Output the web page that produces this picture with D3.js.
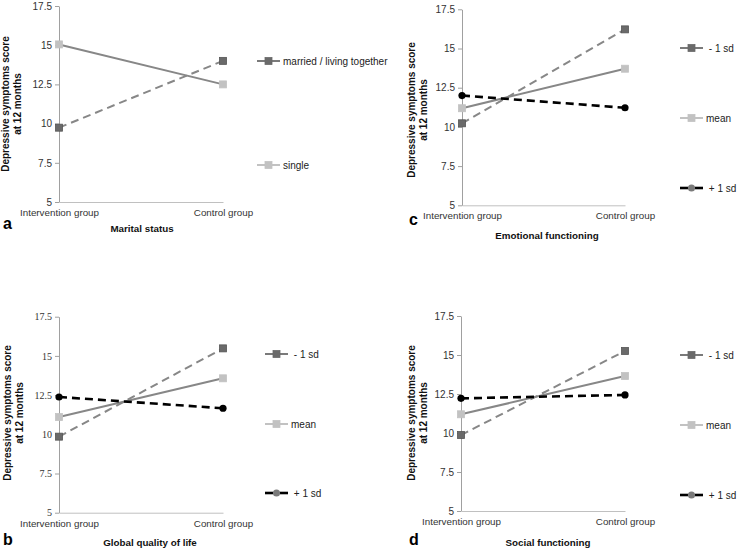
<!DOCTYPE html>
<html>
<head>
<meta charset="utf-8">
<script src="https://cdn.jsdelivr.net/npm/d3@7"></script>
<style>
  body { margin: 0; background: #fff; }
  svg { font-family: "Liberation Sans", Arial, sans-serif; }
  .legend text { white-space: pre; }
</style>
</head>
<body>
<div id="chart"></div>
<script>
// values
const groups = ["Intervention group", "Control group"];
const yTicks = [5, 7.5, 10, 12.5, 15, 17.5];
const yLabel = ["Depressive symptoms score", "at 12 months"];

const maritalLabels = ["married / living together", "single"];
const maritalMarried = [9.74, 14.0];
const maritalSingle = [15.05, 12.5];

const sdLabels = [" - 1 sd", "mean", " + 1 sd"];
const emotionalMinus = [10.23, 16.22];
const emotionalMean = [11.19, 13.71];
const emotionalPlus = [12.0, 11.22];
const globalMinus = [9.85, 15.48];
const globalMean = [11.1, 13.57];
const globalPlus = [12.38, 11.66];
const socialMinus = [9.87, 15.26];
const socialMean = [11.2, 13.65];
const socialPlus = [12.22, 12.44];

const panelTitles = ["Marital status", "Emotional functioning", "Global quality of life", "Social functioning"];
const panelLetters = ["a", "c", "b", "d"];

// series styles
const styleDash = { line: "#878787", dash: "8,5", width: 2, marker: "square", fill: "#6a6a6a", mstroke: "#555", legLine: "#7a7a7a", legFill: "#6a6a6a" };
const styleSolid = { line: "#878787", dash: null, width: 2, marker: "square", fill: "#c2c2c2", mstroke: "#c2c2c2", legLine: "#c2c2c2", legFill: "#c2c2c2" };
const styleBlack = { line: "#000", dash: "8,5", width: 2.6, marker: "circle", fill: "#000", mstroke: "#000", legLine: "#000", legFill: "#7a7a7a" };

const panels = [
  { x0: 59, x1: 223, yTop: 6, yBot: 202, legX: 257, legY: [61, 165], tickFont: null,
    series: [[maritalMarried, styleDash], [maritalSingle, styleSolid]], labels: maritalLabels,
    letter: [3, 229], titleX: 142, titleY: 232, ylx: [5, 17], yly: 104 },
  { x0: 462, x1: 625, yTop: 9.3, yBot: 205.3, legX: 680, legY: [48, 118, 188], tickFont: null,
    series: [[emotionalMinus, styleDash], [emotionalMean, styleSolid], [emotionalPlus, styleBlack]], labels: sdLabels,
    letter: [409, 225], titleX: 547, titleY: 239, ylx: [411, 423], yly: 110 },
  { x0: 59, x1: 223, yTop: 316.7, yBot: 512.7, legX: 265, legY: [354, 424, 493], tickFont: "Liberation Serif, Times New Roman, serif",
    series: [[globalMinus, styleDash], [globalMean, styleSolid], [globalPlus, styleBlack]], labels: sdLabels,
    letter: [3, 545], titleX: 150, titleY: 546, ylx: [7, 19], yly: 413 },
  { x0: 461, x1: 625, yTop: 316, yBot: 511, legX: 680, legY: [355, 425, 495], tickFont: null,
    series: [[socialMinus, styleDash], [socialMean, styleSolid], [socialPlus, styleBlack]], labels: sdLabels,
    letter: [409, 545], titleX: 548, titleY: 546, ylx: [411, 423], yly: 413 }
];

const width = 739, height = 550;
const svg = d3.select("#chart").append("svg").attr("width", width).attr("height", height);

function drawMarker(g, kind, cx, cy, fill, stroke) {
  if (kind === "square") {
    g.append("rect").attr("x", cx - 3.5).attr("y", cy - 3.5).attr("width", 7).attr("height", 7)
      .attr("fill", fill).attr("stroke", stroke).attr("stroke-width", 0.8);
  } else {
    g.append("circle").attr("cx", cx).attr("cy", cy).attr("r", 3.6).attr("fill", fill);
  }
}

panels.forEach((p, i) => {
  const x = d3.scalePoint().domain(groups).range([p.x0, p.x1]).padding(0);
  const y = d3.scaleLinear().domain([5, 17.5]).range([p.yBot, p.yTop]);
  const g = svg.append("g");

  // y axis
  const ya = g.append("g").attr("transform", `translate(${p.x0},0)`)
    .call(d3.axisLeft(y).tickValues(yTicks).tickFormat(d3.format("")).tickSize(4).tickSizeOuter(0).tickPadding(3));
  ya.select(".domain").attr("stroke", "#a0a0a0");
  ya.selectAll(".tick line").attr("stroke", "#a0a0a0");
  ya.selectAll(".tick text").attr("fill", "#333").attr("font-size", 10)
    .attr("font-family", p.tickFont || "Liberation Sans, Arial, sans-serif");

  // x axis
  const xa = g.append("g").attr("transform", `translate(0,${p.yBot})`)
    .call(d3.axisBottom(x).tickSize(0).tickSizeOuter(0).tickPadding(7));
  xa.select(".domain").attr("stroke", "#c0c0c0");
  xa.selectAll(".tick text").attr("fill", "#333").attr("font-size", 9.8)
    .attr("font-family", "Liberation Sans, Arial, sans-serif");

  // series
  const line = d3.line().x((d, j) => x(groups[j])).y(d => y(d));
  p.series.forEach(([vals, st]) => {
    g.append("path").datum(vals).attr("d", line).attr("fill", "none")
      .attr("stroke", st.line).attr("stroke-width", st.width)
      .attr("stroke-dasharray", st.dash);
  });
  p.series.forEach(([vals, st]) => {
    vals.forEach((v, j) => drawMarker(g, st.marker, x(groups[j]), y(v), st.fill, st.mstroke));
  });

  // legend
  const leg = g.append("g").attr("class", "legend");
  p.series.forEach(([vals, st], k) => {
    const ly = p.legY[k];
    if (st.dash) {
      leg.append("line").attr("x1", p.legX).attr("x2", p.legX + 8).attr("y1", ly).attr("y2", ly)
        .attr("stroke", st.legLine).attr("stroke-width", st.width);
      leg.append("line").attr("x1", p.legX + 15).attr("x2", p.legX + 23).attr("y1", ly).attr("y2", ly)
        .attr("stroke", st.legLine).attr("stroke-width", st.width);
    } else {
      leg.append("line").attr("x1", p.legX).attr("x2", p.legX + 23).attr("y1", ly).attr("y2", ly)
        .attr("stroke", st.legLine).attr("stroke-width", st.width);
    }
    drawMarker(leg, st.marker, p.legX + 11.5, ly, st.legFill, st.legFill);
    leg.append("text").attr("x", p.legX + 26).attr("y", ly).attr("dy", "0.35em")
      .attr("font-size", 10).attr("fill", "#222").text(p.labels[k]);
  });

  // y label
  yLabel.forEach((t, k) => {
    g.append("text").attr("transform", `translate(${p.ylx[k]},${p.yly}) rotate(-90)`)
      .attr("text-anchor", "middle").attr("dy", "0.35em")
      .attr("font-size", 10).attr("font-weight", "bold").attr("fill", "#111").text(t);
  });

  // x title and panel letter
  g.append("text").attr("x", p.titleX).attr("y", p.titleY).attr("text-anchor", "middle")
    .attr("font-size", 9.8).attr("font-weight", "bold").attr("fill", "#111").text(panelTitles[i]);
  g.append("text").attr("x", p.letter[0]).attr("y", p.letter[1])
    .attr("font-size", 16).attr("font-weight", "bold").attr("fill", "#000").text(panelLetters[i]);
});
</script>
</body>
</html>
